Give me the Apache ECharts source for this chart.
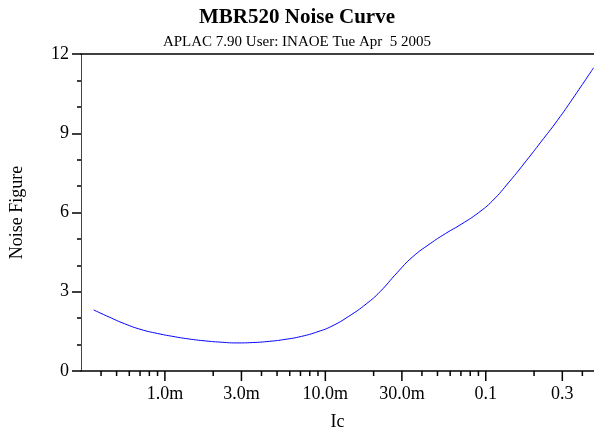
<!DOCTYPE html>
<html>
<head>
<meta charset="utf-8">
<script src="https://cdn.jsdelivr.net/npm/echarts@6/dist/echarts.min.js"></script>
<style>
  html, body { margin: 0; padding: 0; background: #fff; }
  #chart { width: 594px; height: 431px; }
</style>
</head>
<body>
<div id="chart"></div>
<script>
// ---- data ----
const icValues = [0.00036, 0.00045, 0.00056, 0.00071, 0.0009, 0.00112, 0.0014, 0.0018, 0.0022, 0.0028,
  0.0035, 0.0045, 0.0056, 0.0071, 0.009, 0.011, 0.014, 0.018, 0.022, 0.028,
  0.035, 0.045, 0.056, 0.071, 0.09, 0.11, 0.14, 0.18, 0.22, 0.28, 0.35, 0.47];
const noiseFigure = [2.31, 2.04, 1.79, 1.57, 1.42, 1.31, 1.215, 1.137, 1.094, 1.063,
  1.076, 1.124, 1.195, 1.31, 1.49, 1.70, 2.07, 2.54, 3.01, 3.72,
  4.32, 4.82, 5.20, 5.57, 5.99, 6.44, 7.16, 7.98, 8.66, 9.49, 10.33, 11.48];
const majorTicks = [0.001, 0.003, 0.01, 0.03, 0.1, 0.3];
const majorTickLabels = ['1.0m', '3.0m', '10.0m', '30.0m', '0.1', '0.3'];
const minorTicks = [0.0004, 0.0005, 0.0006, 0.0007, 0.0008, 0.0009,
  0.002, 0.004, 0.005, 0.006, 0.007, 0.008, 0.009,
  0.02, 0.04, 0.05, 0.06, 0.07, 0.08, 0.09,
  0.2, 0.4];
const xMin = 0.0003, xMax = 0.4727;
const yMin = 0, yMax = 12, yInterval = 3;

const FONT = "'Liberation Serif', 'Times New Roman', serif";
const chart = echarts.init(document.getElementById('chart'), null, { renderer: 'canvas' });

const curve = icValues.map((v, i) => [v, noiseFigure[i]]);

const option = {
  animation: false,
  backgroundColor: '#ffffff',
  title: [{
    text: 'MBR520 Noise Curve',
    left: 'center',
    top: 2,
    textStyle: { fontFamily: FONT, fontSize: 21, fontWeight: 'bold', color: '#000' }
  }, {
    text: 'APLAC 7.90 User: INAOE Tue Apr  5 2005',
    left: 'center',
    top: 30,
    textStyle: { fontFamily: FONT, fontSize: 15, fontWeight: 'normal', color: '#000' }
  }],
  grid: { left: 81, right: 0, top: 54, bottom: 60, containLabel: false, outerBoundsMode: 'none' },
  xAxis: [{
    type: 'log',
    logBase: 10,
    min: xMin,
    max: xMax,
    name: 'Ic',
    nameLocation: 'middle',
    nameGap: 42,
    nameTextStyle: { fontFamily: FONT, fontSize: 18, color: '#000' },
    axisLine: { show: true, lineStyle: { color: '#000', width: 1.5 } },
    axisTick: { show: false },
    axisLabel: { show: false },
    splitLine: { show: false },
    minorTick: { show: false }
  }, {
    type: 'log',
    position: 'top',
    min: xMin,
    max: xMax,
    axisLine: { show: true, onZero: false, lineStyle: { color: '#000', width: 1.5 } },
    axisTick: { show: false },
    axisLabel: { show: false },
    splitLine: { show: false }
  }],
  yAxis: {
    type: 'value',
    min: yMin,
    max: yMax,
    interval: yInterval,
    name: 'Noise Figure',
    nameLocation: 'middle',
    nameGap: 55,
    nameTextStyle: { fontFamily: FONT, fontSize: 18, color: '#000' },
    axisLine: { show: true, lineStyle: { color: '#444', width: 1 } },
    axisTick: { show: true, inside: false, length: 9, lineStyle: { color: '#000', width: 1.5 } },
    minorTick: { show: true, splitNumber: 3, length: 4, lineStyle: { color: '#000', width: 1.5 } },
    axisLabel: { margin: 12, fontFamily: FONT, fontSize: 18, color: '#000' },
    splitLine: { show: false }
  },
  series: [
    {
      type: 'line',
      name: 'Noise Figure',
      data: curve,
      smooth: true,
      showSymbol: false,
      lineStyle: { color: '#0000ff', width: 1 },
      clip: true,
      z: 3
    },
    {
      type: 'custom',
      name: 'majorTicks',
      silent: true,
      clip: false,
      data: majorTicks.map(v => [v, yMin]),
      encode: { x: 0, y: 1 },
      renderItem: function (params, api) {
        const p = api.coord([api.value(0), yMin]);
        return {
          type: 'group',
          children: [
            { type: 'line', shape: { x1: p[0], y1: p[1], x2: p[0], y2: p[1] + 10 },
              style: { stroke: '#000', lineWidth: 1.5 } },
            { type: 'text', style: { text: majorTickLabels[params.dataIndex], x: p[0], y: p[1] + 14,
              align: 'center', verticalAlign: 'top', fill: '#000',
              font: "18px 'Liberation Serif', 'Times New Roman', serif" } }
          ]
        };
      },
      z: 4
    },
    {
      type: 'custom',
      name: 'minorTicks',
      silent: true,
      clip: false,
      data: minorTicks.map(v => [v, yMin]),
      encode: { x: 0, y: 1 },
      renderItem: function (params, api) {
        const p = api.coord([api.value(0), yMin]);
        return { type: 'line', shape: { x1: p[0], y1: p[1], x2: p[0], y2: p[1] + 5 },
          style: { stroke: '#000', lineWidth: 1.5 } };
      },
      z: 4
    }
  ]
};
chart.setOption(option);
</script>
</body>
</html>
